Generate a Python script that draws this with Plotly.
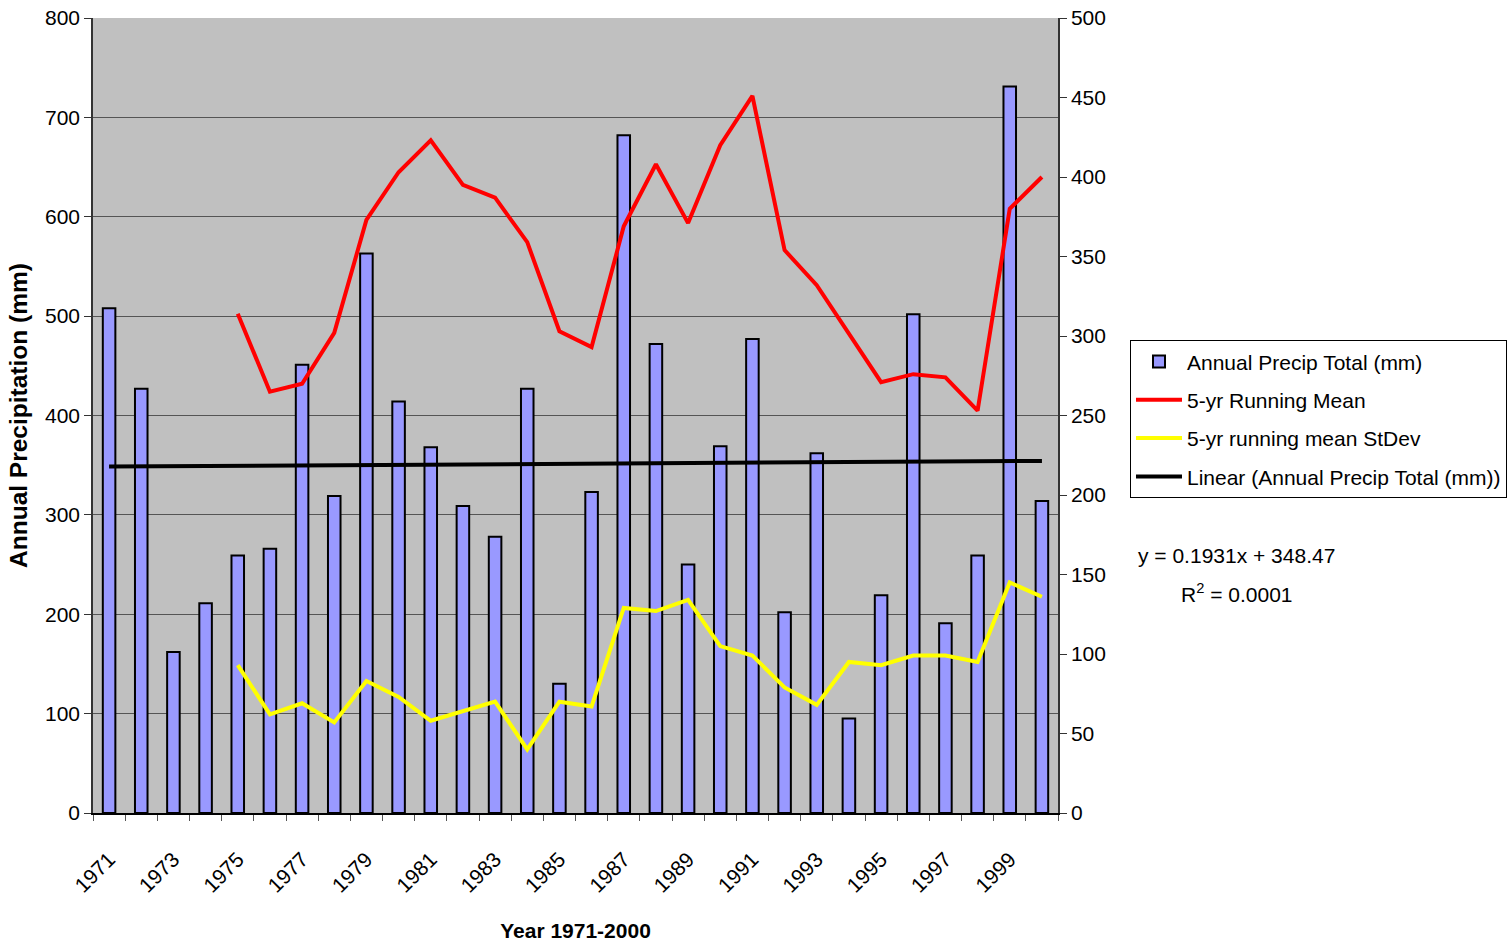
import plotly.graph_objects as go

# Annual precipitation record, 1971-2000
years = [str(y) for y in range(1971, 2001)]
annual_precip_mm = [508, 427, 162, 211, 259, 266, 451, 319, 563, 414,
                    368, 309, 278, 427, 130, 323, 682, 472, 250, 369,
                    477, 202, 362, 95, 219, 502, 191, 259, 731, 314]

# 5-year running statistics (first value at 1975)
running_years = [str(y) for y in range(1975, 2001)]
running_mean = [314, 265, 270, 302, 373, 403, 423, 395, 387, 359,
                303, 293, 369, 408, 371, 420, 451, 354, 332, 301,
                271, 276, 274, 253, 380, 400]
running_stdev = [93, 62, 69, 57, 83, 73, 58, 64, 70, 40,
                 70, 67, 129, 127, 134, 105, 99, 79, 68, 95,
                 93, 99, 99, 95, 145, 136]

# Linear trend of the annual totals (x = 1..30)
trend_slope = 0.1931
trend_intercept = 348.47
trend_r2 = 0.0001

tick_text = [y if i % 2 == 0 else "" for i, y in enumerate(years)]

FONT = "Arial, Liberation Sans, sans-serif"

fig = go.Figure()

fig.add_trace(go.Bar(
    x=years, y=annual_precip_mm, name="Annual Precip Total (mm)",
    marker=dict(color="#9999FF", line=dict(color="#000000", width=2)),
    yaxis="y", legendgroup="a",
))

fig.add_trace(go.Scatter(
    x=running_years, y=running_mean, name="5-yr Running Mean",
    mode="lines", line=dict(color="#FF0000", width=4),
    yaxis="y2", legendgroup="b",
))

fig.add_trace(go.Scatter(
    x=running_years, y=running_stdev, name="5-yr running mean StDev",
    mode="lines", line=dict(color="#FFFF00", width=4),
    yaxis="y2", legendgroup="c",
))

trend_x = [years[0], years[-1]]
trend_y = [trend_slope * 1 + trend_intercept,
           trend_slope * len(years) + trend_intercept]
fig.add_trace(go.Scatter(
    x=trend_x, y=trend_y, name="Linear (Annual Precip Total (mm))",
    mode="lines", line=dict(color="#000000", width=4),
    yaxis="y", legendgroup="d",
))

fig.update_layout(
    width=1512, height=944,
    margin=dict(l=93, r=454, t=18, b=131, autoexpand=False),
    paper_bgcolor="#FFFFFF",
    plot_bgcolor="#C0C0C0",
    font=dict(family=FONT, size=21, color="#000000"),
    bargap=0.61,
    showlegend=True,
    legend=dict(
        x=1.0746, y=0.5945, xanchor="left", yanchor="top",
        bgcolor="#FFFFFF", bordercolor="#000000", borderwidth=1,
        font=dict(family=FONT, size=21, color="#000000"),
        traceorder="grouped", tracegroupgap=8, itemwidth=46,
    ),
    xaxis=dict(
        type="category", automargin=True,
        tickmode="array", tickvals=years, ticktext=tick_text,
        tickangle=-45, tickson="boundaries",
        ticks="outside", ticklen=6, tickcolor="#555555",
        ticklabelstandoff=24,
        showline=True, linecolor="#000000", linewidth=1.5,
        showgrid=False, zeroline=False,
        title=dict(text="<b>Year 1971-2000</b>",
                   font=dict(family=FONT, size=21), standoff=28),
    ),
    yaxis=dict(
        range=[0, 800], dtick=100, automargin=True,
        ticks="outside", ticklen=7, tickcolor="#333333",
        showline=True, linecolor="#333333", linewidth=1.5,
        showgrid=True, gridcolor="#555555", gridwidth=1,
        zeroline=False,
        title=dict(text="<b>Annual Precipitation (mm)</b>",
                   font=dict(family=FONT, size=24.5), standoff=10),
    ),
    yaxis2=dict(
        range=[0, 500], dtick=50, overlaying="y", side="right",
        automargin=False,
        ticks="outside", ticklen=7, tickcolor="#333333",
        showline=True, linecolor="#333333", linewidth=1.5,
        showgrid=False, zeroline=False,
    ),
)

fig.add_annotation(
    xref="paper", yref="paper", x=1.185, y=0.3233,
    text=f"y = {trend_slope}x + {trend_intercept}",
    showarrow=False, xanchor="center", yanchor="middle",
    font=dict(family=FONT, size=21, color="#000000"),
)
fig.add_annotation(
    xref="paper", yref="paper", x=1.185, y=0.2767,
    text=f"R<sup>2</sup> = {trend_r2:.4f}",
    showarrow=False, xanchor="center", yanchor="middle",
    font=dict(family=FONT, size=21, color="#000000"),
)

fig.write_html("out.html")
